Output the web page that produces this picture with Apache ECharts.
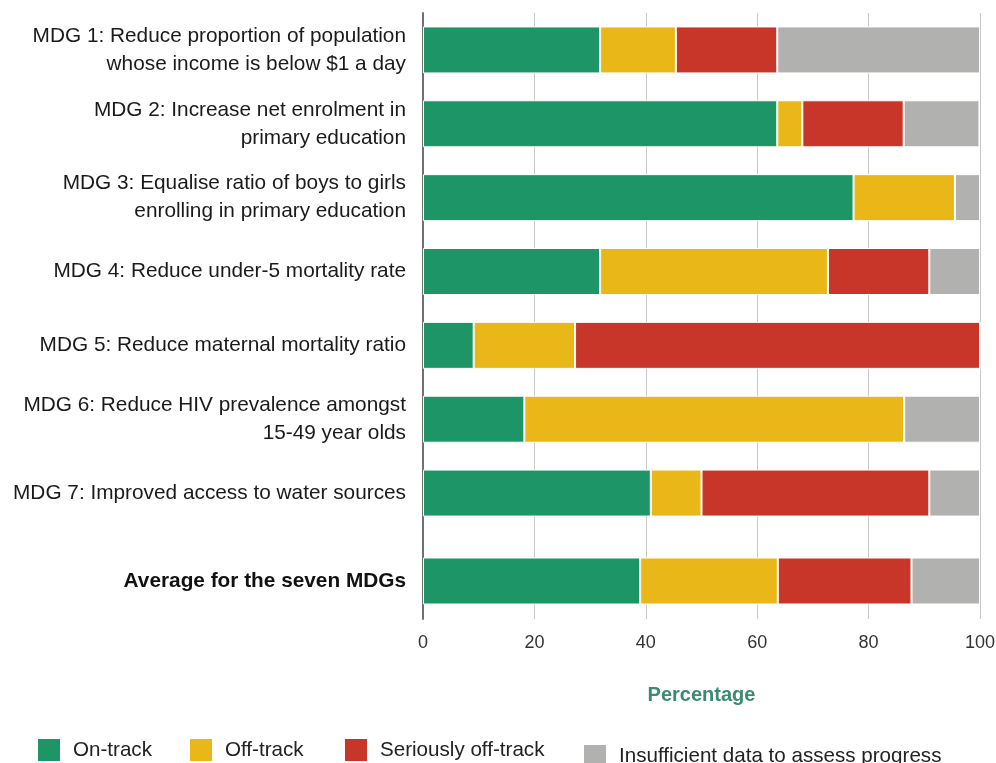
<!DOCTYPE html>
<html>
<head>
<meta charset="utf-8">
<script src="https://cdn.jsdelivr.net/npm/echarts@6/dist/echarts.min.js"></script>
<style>
  html, body { margin: 0; padding: 0; background: #fff; }
  #chart { width: 996px; height: 763px; }
</style>
</head>
<body>
<div id="chart"></div>
<script>
// categories (top to bottom)
const categories = [
  'MDG 1: Reduce proportion of population\nwhose income is below $1 a day',
  'MDG 2: Increase net enrolment in\nprimary education',
  'MDG 3: Equalise ratio of boys to girls\nenrolling in primary education',
  'MDG 4: Reduce under-5 mortality rate',
  'MDG 5: Reduce maternal mortality ratio',
  'MDG 6: Reduce HIV prevalence amongst\n15-49 year olds',
  'MDG 7: Improved access to water sources'
];
const avgCategory = ['Average for the seven MDGs'];

// percentages per MDG
const onTrack      = [31.8, 63.6, 77.3, 31.8, 9.1, 18.2, 40.9];
const offTrack     = [13.6, 4.5, 18.2, 40.9, 18.2, 68.2, 9.1];
const seriouslyOff = [18.2, 18.2, 0, 18.2, 72.7, 0, 40.9];
const insufficient = [36.4, 13.6, 4.5, 9.1, 0, 13.6, 9.1];

// average row
const avgOnTrack      = [39.0];
const avgOffTrack     = [24.7];
const avgSeriouslyOff = [24.0];
const avgInsufficient = [12.3];

const xTicks = [0, 20, 40, 60, 80, 100];

const seriesNames = ['On-track', 'Off-track', 'Seriously off-track', 'Insufficient data to assess progress'];
const colors = ['#1e9566', '#e9b818', '#c8362a', '#b1b1b0'];

const FONT = 'Liberation Sans';

const chart = echarts.init(document.getElementById('chart'));

// grid 0 = MDG rows, grid 1 = spacer (only lines), grid 2 = average row
function mkSeries(name, color, data, idx) {
  return {
    name: name,
    type: 'bar',
    stack: 'total' + idx,
    xAxisIndex: idx,
    yAxisIndex: idx,
    barWidth: 47,
    data: data,
    itemStyle: { color: color, borderColor: '#fff', borderWidth: 1 },
    emphasis: { disabled: true }
  };
}

const main = [onTrack, offTrack, seriouslyOff, insufficient];
const avg = [avgOnTrack, avgOffTrack, avgSeriouslyOff, avgInsufficient];
let series = [];
seriesNames.forEach((n, i) => {
  series.push(mkSeries(n, colors[i], main[i], 0));
  series.push(mkSeries(n, colors[i], avg[i], 2));
});

// one legend per item so they sit where the original has them
const legendPos = [
  { left: 38, top: 739 },
  { left: 190, top: 739 },
  { left: 345, top: 739 },
  { left: 584, top: 745 }
];
const legends = seriesNames.map((n, i) => ({
  data: [n],
  left: legendPos[i].left,
  top: legendPos[i].top,
  padding: 0,
  icon: 'rect',
  itemWidth: 22,
  itemHeight: 22,
  itemStyle: { borderWidth: 0 },
  selectedMode: false,
  textStyle: {
    color: '#222',
    fontSize: 20.6,
    fontFamily: FONT,
    padding: [0, 0, 0, 8]
  }
}));

function xAxisFor(idx, withLabels) {
  let ax = {
    type: 'value',
    gridIndex: idx,
    min: xTicks[0],
    max: xTicks[xTicks.length - 1],
    interval: 20,
    axisLine: { show: false },
    axisTick: { show: false },
    axisLabel: { show: false },
    splitLine: { lineStyle: { color: '#c8c8c8', width: 1 } }
  };
  if (withLabels) {
    ax.axisLabel = { show: true, color: '#333', fontSize: 18, fontFamily: FONT, margin: 15 };
    ax.name = 'Percentage';
    ax.nameLocation = 'middle';
    ax.nameGap = 66;
    ax.nameTextStyle = { color: '#3b8a71', fontSize: 20, fontWeight: 'bold', fontFamily: FONT };
  }
  return ax;
}

const yLine = { show: true, lineStyle: { color: '#707070', width: 2 } };

function yAxisFor(idx, data, bold) {
  return {
    type: 'category',
    gridIndex: idx,
    inverse: true,
    data: data,
    axisLine: yLine,
    axisTick: { show: false },
    axisLabel: {
      color: bold ? '#111' : '#1a1a1a',
      fontSize: 20.8,
      fontWeight: bold ? 'bold' : 'normal',
      fontFamily: FONT,
      margin: 17,
      lineHeight: 28,
      align: 'right'
    }
  };
}

const option = {
  backgroundColor: '#fff',
  animation: false,
  color: colors,
  legend: legends,
  grid: [
    { left: 423, right: 16, top: 13, height: 517, outerBoundsMode: 'none' },
    { left: 423, right: 16, top: 530, height: 13, outerBoundsMode: 'none' },
    { left: 423, right: 16, top: 543, height: 76, outerBoundsMode: 'none' }
  ],
  xAxis: [xAxisFor(0, false), xAxisFor(1, false), xAxisFor(2, true)],
  yAxis: [
    yAxisFor(0, categories, false),
    yAxisFor(1, [''], false),
    yAxisFor(2, avgCategory, true)
  ],
  series: series
};

chart.setOption(option);
</script>
</body>
</html>
